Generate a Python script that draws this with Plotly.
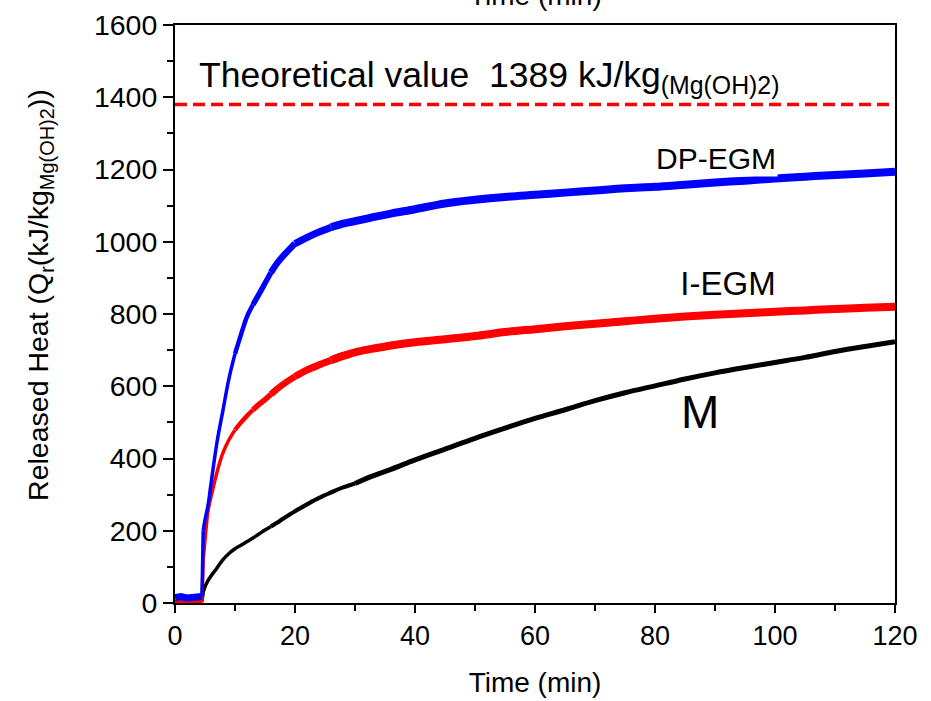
import plotly.graph_objects as go

# ---- data ----
time_min = [0, 1, 2, 3, 4, 4.5, 4.7, 5, 5.5, 6, 7, 8, 9, 10, 11, 12, 13, 14, 15, 16, 17, 18,
            20, 22, 24, 26, 28, 30, 33, 36, 40, 45, 50, 55, 60, 65, 70, 75, 80, 85, 90, 95,
            100, 105, 110, 115, 120]

dp_egm = [15, 18, 14, 16, 17, 18, 200, 230, 270, 330, 445, 534, 622, 690, 743, 793, 826, 855,
          885, 915, 940, 960, 995, 1012, 1027, 1040, 1050, 1057, 1068, 1078, 1090, 1106, 1116,
          1124, 1130, 1136, 1142, 1148, 1152, 1158, 1164, 1169, 1175, 1180, 1185, 1189, 1194]

i_egm = [0, -2, 2, 0, 1, 2, 120, 175, 255, 294, 362, 416, 452, 479, 500, 518, 535, 550, 563,
         578, 592, 605, 627, 645, 659, 672, 684, 694, 704, 713, 722, 730, 739, 750, 758, 766,
         773, 780, 787, 793, 798, 802, 806, 810, 814, 817, 820]

m_series = [3, 2, 4, 3, 2, 5, 30, 45, 62, 75, 97, 120, 137, 150, 160, 170, 180, 191, 202, 212,
            222, 233, 254, 273, 291, 306, 320, 331, 352, 370, 396, 426, 456, 484, 511, 535,
            560, 582, 601, 620, 637, 652, 666, 680, 696, 710, 723]

theoretical_x = [0, 120]
theoretical_y = [1380, 1380]

x_ticks = [0, 20, 40, 60, 80, 100, 120]
y_ticks = [0, 200, 400, 600, 800, 1000, 1200, 1400, 1600]

FONT = "Liberation Sans, Arial, sans-serif"

fig = go.Figure()


def add_series(values, color, segments):
    for t0, t1, w, shape in segments:
        xs = [t for t in time_min if t0 <= t <= t1]
        ys = [v for t, v in zip(time_min, values) if t0 <= t <= t1]
        fig.add_trace(go.Scatter(x=xs, y=ys, mode="lines",
                                 line=dict(color=color, width=w, shape=shape, smoothing=1.0)
                                 if shape == "spline" else dict(color=color, width=w),
                                 showlegend=False, hoverinfo="skip"))


wide_segments = [(0, 4.5, 7, "linear"), (4.5, 4.7, 3.5, "linear"), (4.7, 10, 3.5, "spline"),
                 (10, 13, 4.5, "spline"), (13, 16, 5.5, "spline"), (16, 20, 6.5, "spline"),
                 (20, 26, 7.2, "spline"), (26, 120, 8, "spline")]
black_segments = [(0, 4.5, 4, "linear"), (4.5, 4.7, 3.5, "linear"), (4.7, 16, 3.5, "spline"),
                  (16, 30, 4.2, "spline"), (30, 120, 5, "spline")]
add_series(m_series, "black", black_segments)
add_series(i_egm, "red", wide_segments)
add_series(dp_egm, "blue", wide_segments)

fig.add_trace(go.Scatter(x=theoretical_x, y=theoretical_y, mode="lines",
                         line=dict(color="red", width=3.5, dash="12px,6px"),
                         showlegend=False, hoverinfo="skip"))

annotations = [
    dict(x=3.67, y=1455, xref="x", yref="y", xanchor="left", yanchor="middle",
         text="Theoretical value\u00a0\u00a01389 kJ/kg<sub>(Mg(OH)2)</sub>",
         showarrow=False, font=dict(size=35.5, color="black", family=FONT)),
    dict(x=100.5, y=1179, xref="x", yref="y", xanchor="right", yanchor="bottom",
         width=205, height=34, align="right", bgcolor="white",
         text="DP-EGM", showarrow=False, font=dict(size=30, color="black", family=FONT)),
    dict(x=79.1, y=836, xref="x", yref="y", xanchor="left", yanchor="bottom",
         width=152, height=32, align="center", bgcolor="white",
         text="I-EGM", showarrow=False, font=dict(size=33, color="black", family=FONT)),
    dict(x=87.5, y=529, xref="x", yref="y", xanchor="center", yanchor="middle",
         text="M", showarrow=False, font=dict(size=46, color="black", family=FONT)),
    dict(x=-0.1875, y=0.533, xref="paper", yref="paper", xanchor="center", yanchor="middle",
         textangle=-90, showarrow=False,
         text="Released Heat (Q<sub>r</sub>(kJ/kg<sub>Mg(OH)2</sub>))",
         font=dict(size=28.5, color="black", family=FONT)),
    dict(x=0.5, y=1.0503, xref="paper", yref="paper", xanchor="center", yanchor="middle",
         text="Time (min)", showarrow=False,
         font=dict(size=28, color="black", family=FONT)),
]

fig.update_layout(
    width=931, height=701,
    margin=dict(l=175, r=36, t=25, b=98),
    paper_bgcolor="white", plot_bgcolor="white",
    font=dict(family=FONT, color="black"),
    annotations=annotations,
    xaxis=dict(range=[0, 120], tickvals=x_ticks, ticktext=[str(v) for v in x_ticks],
               showgrid=False, zeroline=False, showline=True, linecolor="black",
               linewidth=2, mirror=True, ticks="outside", ticklen=8, tickwidth=2,
               tickcolor="black", tickfont=dict(size=27), automargin=False,
               minor=dict(dtick=10, ticks="outside", ticklen=6, tickwidth=2, tickcolor="black"),
               title=dict(text="Time (min)", font=dict(size=28), standoff=22)),
    yaxis=dict(range=[0, 1600], tickvals=y_ticks, ticktext=[str(v) for v in y_ticks],
               showgrid=False, zeroline=False, showline=True, linecolor="black",
               linewidth=2, mirror=True, ticks="outside", ticklen=10, tickwidth=2,
               tickcolor="black", tickfont=dict(size=28.5), automargin=False,
               minor=dict(dtick=100, ticks="outside", ticklen=6, tickwidth=2, tickcolor="black")),
)

fig.write_html("out.html", config={"displayModeBar": False},
               post_script="document.body.style.margin='0px';")
